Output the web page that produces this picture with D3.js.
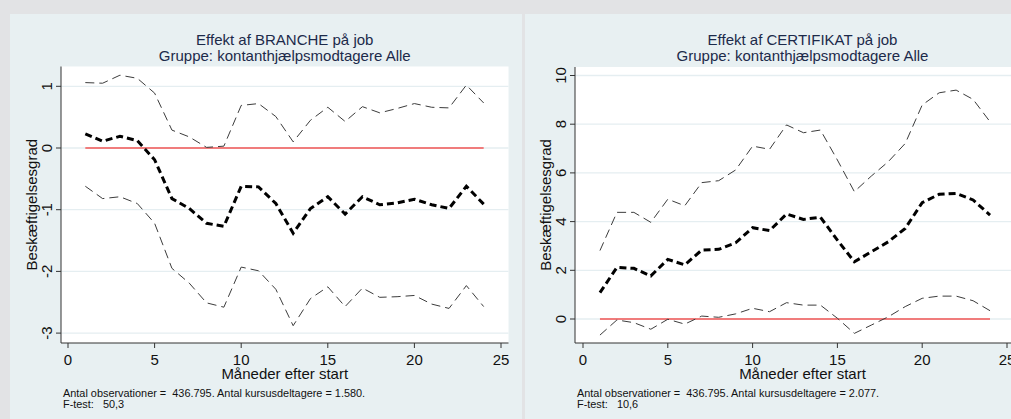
<!DOCTYPE html>
<html>
<head>
<meta charset="utf-8">
<script src="https://cdn.jsdelivr.net/npm/d3@7"></script>
<style>
  body { margin: 0; background: #e2e3e5; }
  svg { display: block; font-family: "Liberation Sans", Arial, Helvetica, sans-serif; }
</style>
</head>
<body>
<svg id="chart" width="1011" height="419"></svg>
<script>
// months after start
const months = [1, 2, 3, 4, 5, 6, 7, 8, 9, 10, 11, 12, 13, 14, 15, 16, 17, 18, 19, 20, 21, 22, 23, 24];

// BRANCHE: point estimate and confidence band
const brancheEffect = [0.23, 0.11, 0.19, 0.12, -0.19, -0.82, -0.98, -1.22, -1.27, -0.62, -0.63, -0.90,
  -1.38, -0.98, -0.79, -1.07, -0.79, -0.92, -0.89, -0.83, -0.92, -0.98, -0.62, -0.91];
const brancheUpper = [1.06, 1.05, 1.18, 1.13, 0.89, 0.29, 0.18, 0.01, 0.03, 0.69, 0.72, 0.51,
  0.10, 0.45, 0.66, 0.43, 0.67, 0.57, 0.64, 0.72, 0.66, 0.65, 1.02, 0.73];
const brancheLower = [-0.62, -0.82, -0.79, -0.90, -1.22, -1.95, -2.19, -2.51, -2.58, -1.93, -1.99, -2.29,
  -2.88, -2.44, -2.25, -2.57, -2.27, -2.42, -2.41, -2.39, -2.53, -2.60, -2.23, -2.57];

// CERTIFIKAT: point estimate and confidence band
const certEffect = [1.08, 2.12, 2.08, 1.77, 2.45, 2.22, 2.83, 2.86, 3.13, 3.75, 3.63, 4.31,
  4.09, 4.18, 3.24, 2.35, 2.76, 3.17, 3.72, 4.78, 5.12, 5.16, 4.89, 4.27];
const certUpper = [2.81, 4.38, 4.38, 3.97, 4.92, 4.65, 5.60, 5.68, 6.12, 7.10, 6.97, 7.97,
  7.65, 7.76, 6.53, 5.23, 5.87, 6.46, 7.21, 8.79, 9.29, 9.40, 9.02, 8.10];
const certLower = [-0.66, -0.04, -0.15, -0.42, -0.01, -0.21, 0.12, 0.07, 0.21, 0.44, 0.30, 0.67,
  0.57, 0.57, 0.03, -0.59, -0.25, 0.09, 0.51, 0.85, 0.94, 0.94, 0.75, 0.34];

const xTicks = [0, 5, 10, 15, 20, 25];
const brancheTicks = [-3, -2, -1, 0, 1];
const certTicks = [0, 2, 4, 6, 8, 10];

const panels = [
  {
    title: "Effekt af BRANCHE på job",
    subtitle: "Gruppe: kontanthjælpsmodtagere Alle",
    effect: brancheEffect, upper: brancheUpper, lower: brancheLower,
    yTicks: brancheTicks, yDomain: [-3, 1],
    note1: "Antal observationer =  436.795. Antal kursusdeltagere = 1.580.",
    note2: "F-test:   50,3",
    boxX: 10, boxW: 512,
    plot: { left: 61, right: 508.5, top: 66.5, bottom: 343 },
    xRange: [68, 501], yRange: [333.1, 86.3]
  },
  {
    title: "Effekt af CERTIFIKAT på job",
    subtitle: "Gruppe: kontanthjælpsmodtagere Alle",
    effect: certEffect, upper: certUpper, lower: certLower,
    yTicks: certTicks, yDomain: [0, 10],
    note1: "Antal observationer =  436.795. Antal kursusdeltagere = 2.077.",
    note2: "F-test:   10,6",
    boxX: 525, boxW: 520,
    plot: { left: 575, right: 1030, top: 67, bottom: 343 },
    xRange: [583, 1007], yRange: [319, 75.5]
  }
];

const svg = d3.select("#chart");

svg.append("rect")
  .attr("width", 1011).attr("height", 419)
  .attr("fill", "#e2e3e5");

function drawPanel(p) {
  const g = svg.append("g");
  const x = d3.scaleLinear().domain([0, 25]).range(p.xRange);
  const y = d3.scaleLinear().domain(p.yDomain).range(p.yRange);
  const cx = (p.plot.left + p.plot.right) / 2;
  const cy = (p.plot.top + p.plot.bottom) / 2;

  // panel background
  g.append("rect")
    .attr("x", p.boxX).attr("y", 14)
    .attr("width", p.boxW).attr("height", 405)
    .attr("fill", "#e8f0f2");

  // titles
  g.append("text")
    .attr("x", cx).attr("y", 44.5)
    .attr("text-anchor", "middle")
    .style("font-size", "15px")
    .style("fill", "#1c2a4a")
    .text(p.title);
  g.append("text")
    .attr("x", cx).attr("y", 61)
    .attr("text-anchor", "middle")
    .style("font-size", "15px")
    .style("fill", "#1c2a4a")
    .text(p.subtitle);

  // plot region
  g.append("rect")
    .attr("x", p.plot.left).attr("y", p.plot.top)
    .attr("width", p.plot.right - p.plot.left)
    .attr("height", p.plot.bottom - p.plot.top)
    .attr("fill", "#ffffff");

  // grid lines
  g.selectAll(".grid")
    .data(p.yTicks)
    .enter().append("line")
    .attr("x1", p.plot.left).attr("x2", p.plot.right)
    .attr("y1", d => y(d)).attr("y2", d => y(d))
    .style("stroke", "#e5eef1")
    .style("stroke-width", 1.3);

  // y axis
  const ya = g.append("g");
  ya.append("line")
    .attr("x1", p.plot.left).attr("x2", p.plot.left)
    .attr("y1", p.plot.top).attr("y2", p.plot.bottom)
    .style("stroke", "#333").style("stroke-width", 1);
  ya.selectAll(".ytick")
    .data(p.yTicks)
    .enter().append("line")
    .attr("x1", p.plot.left - 5).attr("x2", p.plot.left)
    .attr("y1", d => y(d)).attr("y2", d => y(d))
    .style("stroke", "#333").style("stroke-width", 1);
  ya.selectAll(".ylab")
    .data(p.yTicks)
    .enter().append("text")
    .attr("transform", d => "translate(" + (p.plot.left - 14) + "," + y(d) + ") rotate(-90)")
    .attr("text-anchor", "middle")
    .attr("dy", "0.36em")
    .style("font-size", "15px")
    .style("fill", "#111")
    .text(d => d);
  ya.append("text")
    .attr("transform", "translate(" + (p.plot.left - 29) + "," + cy + ") rotate(-90)")
    .attr("text-anchor", "middle")
    .attr("dy", "0.36em")
    .style("font-size", "15px")
    .style("fill", "#111")
    .text("Beskæftigelsesgrad");

  // x axis
  const xa = g.append("g");
  xa.append("line")
    .attr("x1", p.plot.left).attr("x2", p.plot.right)
    .attr("y1", p.plot.bottom).attr("y2", p.plot.bottom)
    .style("stroke", "#333").style("stroke-width", 1);
  xa.selectAll(".xtick")
    .data(xTicks)
    .enter().append("line")
    .attr("x1", d => x(d)).attr("x2", d => x(d))
    .attr("y1", p.plot.bottom).attr("y2", p.plot.bottom + 5)
    .style("stroke", "#333").style("stroke-width", 1);
  xa.selectAll(".xlab")
    .data(xTicks)
    .enter().append("text")
    .attr("x", d => x(d)).attr("y", 364.5)
    .attr("text-anchor", "middle")
    .style("font-size", "15px")
    .style("fill", "#111")
    .text(d => d);
  xa.append("text")
    .attr("x", cx).attr("y", 378.5)
    .attr("text-anchor", "middle")
    .style("font-size", "15px")
    .style("fill", "#111")
    .text("Måneder efter start");

  // notes
  g.append("text")
    .attr("x", p.plot.left + 2).attr("y", 397)
    .style("font-size", "10.9px")
    .style("fill", "#111")
    .style("white-space", "pre")
    .text(p.note1);
  g.append("text")
    .attr("x", p.plot.left + 2).attr("y", 408)
    .style("font-size", "10.9px")
    .style("fill", "#111")
    .style("white-space", "pre")
    .text(p.note2);

  // zero reference line
  g.append("line")
    .attr("x1", x(months[0])).attr("x2", x(months[months.length - 1]))
    .attr("y1", y(0)).attr("y2", y(0))
    .style("stroke", "#f25555")
    .style("stroke-width", 1.3);

  const line = d3.line()
    .x((d, i) => x(months[i]))
    .y(d => y(d));

  // confidence band
  [p.upper, p.lower].forEach(series => {
    g.append("path")
      .attr("d", line(series))
      .style("fill", "none")
      .style("stroke", "#3c3c3c")
      .style("stroke-width", 1)
      .style("stroke-dasharray", "9,5");
  });

  // estimate
  g.append("path")
    .attr("d", line(p.effect))
    .style("fill", "none")
    .style("stroke", "#000")
    .style("stroke-width", 3)
    .style("stroke-dasharray", "7,4");
}

panels.forEach(drawPanel);
</script>
</body>
</html>
